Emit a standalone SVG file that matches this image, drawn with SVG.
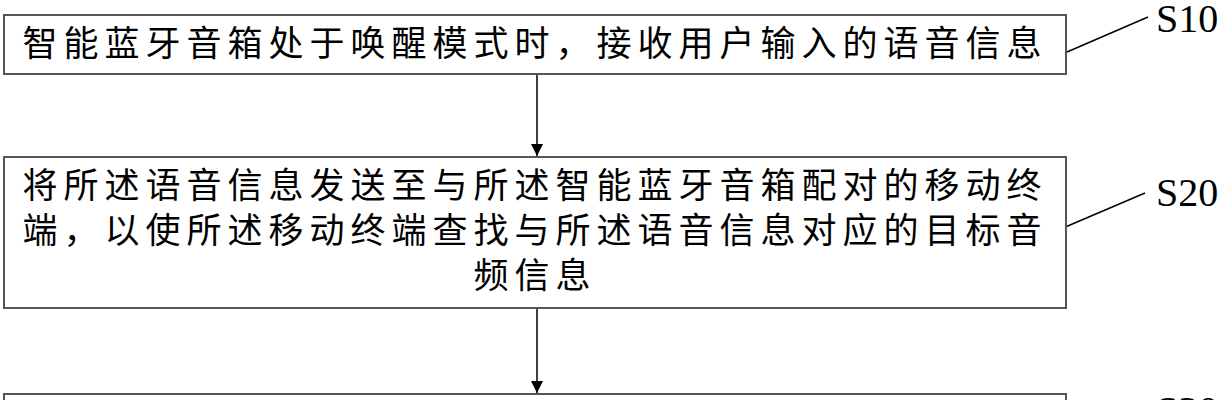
<svg xmlns="http://www.w3.org/2000/svg" width="1227" height="400" viewBox="0 0 1227 400">
<style>
.box{fill:#fff;stroke:#555;stroke-width:2}
.t{font-family:"Liberation Serif","Noto Sans CJK SC",serif;font-size:35px;fill:#000;letter-spacing:6px}
.lbl{font-family:"Liberation Serif",serif;font-size:40px;fill:#000}
.ln{stroke:#000;stroke-width:1.5;fill:none}
</style>
<defs>
<marker id="a" viewBox="0 0 10 10" refX="10" refY="5" markerWidth="18" markerHeight="12" markerUnits="userSpaceOnUse" orient="auto"><path d="M0,0 L10,5 L0,10 Z" fill="#000"/></marker></defs>
<rect width="1227" height="400" fill="#fff"/>
<g id="connectors">
<line class="ln" x1="537" y1="74" x2="537" y2="156" marker-end="url(#a)"/>
<line class="ln" x1="537" y1="308" x2="537" y2="393" marker-end="url(#a)"/>
<line class="ln" x1="1067" y1="52" x2="1148" y2="17"/>
<line class="ln" x1="1063" y1="228" x2="1145" y2="193"/>
</g>
<g id="S10">
<rect class="box" x="4" y="15" width="1062" height="59"/>
<text class="t" x="535" y="56" text-anchor="middle">智能蓝牙音箱处于唤醒模式时，接收用户输入的语音信息</text>
<text class="lbl" x="1156" y="32">S10</text>
</g>
<g id="S20">
<rect class="box" x="4" y="157" width="1062" height="151"/>
<text class="t" x="535" y="198" text-anchor="middle">将所述语音信息发送至与所述智能蓝牙音箱配对的移动终</text>
<text class="t" x="535" y="243" text-anchor="middle">端，以使所述移动终端查找与所述语音信息对应的目标音</text>
<text class="t" x="535" y="288" text-anchor="middle">频信息</text>
<text class="lbl" x="1156" y="206">S20</text>
</g>
<g id="S30">
<rect class="box" x="4" y="394" width="1062" height="40"/>
<text class="lbl" x="1156" y="424">S30</text>
</g>
</svg>
